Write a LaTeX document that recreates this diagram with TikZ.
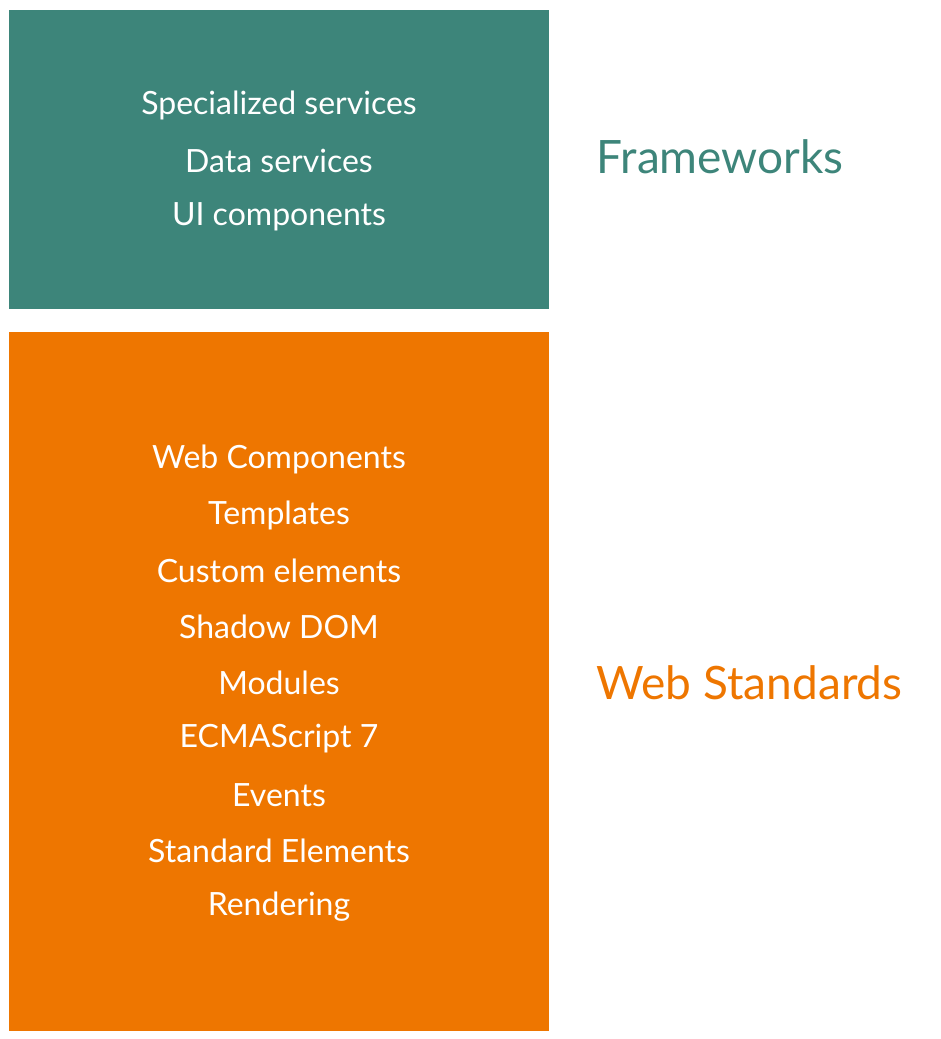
\documentclass[tikz,border=0pt]{standalone}
\usepackage{fontspec}
\setmainfont{Lato}
\definecolor{teal}{HTML}{3D857A}
\definecolor{orng}{HTML}{EE7600}
\begin{document}
\begin{tikzpicture}[x=1pt,y=-1pt,
  item/.style={text=white,font=\fontsize{32}{32}\selectfont,anchor=center},
  label/.style={font=\fontsize{46}{46}\selectfont,anchor=west}]
\useasboundingbox (0,0) rectangle (941,1039);
\fill[teal] (9,10) rectangle (549,309);
\fill[orng] (9,332) rectangle (549,1031);
\foreach \t [count=\i] in {Specialized services,Data services,UI components}
  \node[item] (f\i) at (279,105+56*\i-56) {\t};
\foreach \t [count=\i] in {Web Components,Templates,Custom elements,Shadow DOM,Modules,ECMAScript 7,Events,Standard Elements,Rendering}
  \node[item] (w\i) at (279,459+56*\i-56) {\t};
\node[label,text=teal] (fw) at (593,157) {Frameworks};
\node[label,text=orng] (ws) at (593,683) {Web Standards};
\end{tikzpicture}
\end{document}
